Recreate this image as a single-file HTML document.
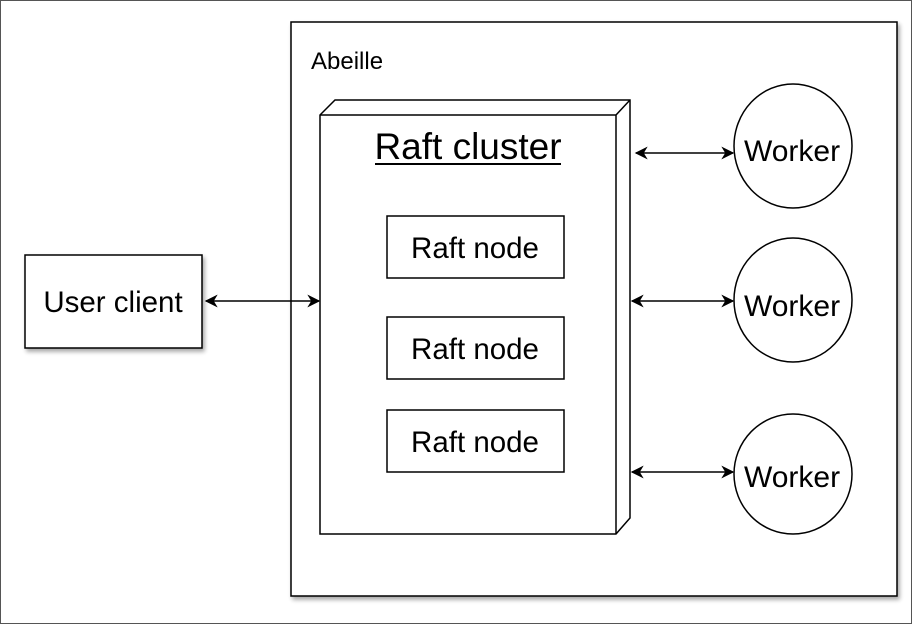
<!DOCTYPE html>
<html><head><meta charset="utf-8"><style>
html,body{margin:0;padding:0;background:#fff;}
svg{display:block;}
text{font-family:"Liberation Sans",sans-serif;fill:#000;}
</style></head><body>
<svg width="912" height="624" viewBox="0 0 912 624" xmlns="http://www.w3.org/2000/svg">
<defs>
<filter id="sh" x="-10%" y="-10%" width="130%" height="130%">
<feGaussianBlur in="SourceAlpha" stdDeviation="2"/>
<feOffset dx="2" dy="3" result="b"/>
<feComponentTransfer><feFuncA type="linear" slope="0.35"/></feComponentTransfer>
<feMerge><feMergeNode/><feMergeNode in="SourceGraphic"/></feMerge>
</filter>
<marker id="ah" viewBox="0 0 10 10" refX="9" refY="5" markerWidth="13" markerHeight="13" markerUnits="userSpaceOnUse" orient="auto-start-reverse">
<path d="M0,0 L10,5 L0,10 L3,5 Z" fill="#000"/>
</marker>
</defs>
<rect x="0.5" y="0.5" width="911" height="623" fill="#fff" stroke="#555" stroke-width="1"/>
<rect x="291" y="22" width="606" height="574" fill="#fff" stroke="#000" stroke-width="1.5" filter="url(#sh)"/>
<text x="311" y="69" font-size="24">Abeille</text>
<path d="M320,115 L335,100 L630,100 L630,518 L616,534 L320,534 Z" fill="#fff" stroke="#000" stroke-width="1.5"/>
<path d="M320,115 L616,115 L630,100 M616,115 L616,534" fill="none" stroke="#000" stroke-width="1.5"/>
<text x="468" y="159" font-size="37" text-anchor="middle">Raft cluster</text>
<line x1="375" y1="164" x2="561" y2="164" stroke="#000" stroke-width="2"/>
<rect x="387" y="216" width="177" height="62" fill="#fff" stroke="#000" stroke-width="1.5"/>
<text x="475" y="258" font-size="29.5" text-anchor="middle">Raft node</text>
<rect x="387" y="317" width="177" height="62" fill="#fff" stroke="#000" stroke-width="1.5"/>
<text x="475" y="359" font-size="29.5" text-anchor="middle">Raft node</text>
<rect x="387" y="410" width="177" height="62" fill="#fff" stroke="#000" stroke-width="1.5"/>
<text x="475" y="452" font-size="29.5" text-anchor="middle">Raft node</text>
<rect x="25" y="255" width="177" height="93" fill="#fff" stroke="#000" stroke-width="1.5" filter="url(#sh)"/>
<text x="113" y="312" font-size="29.5" text-anchor="middle">User client</text>
<line x1="206" y1="301" x2="319" y2="301" stroke="#000" stroke-width="1.5" marker-start="url(#ah)" marker-end="url(#ah)"/>
<ellipse cx="793" cy="146" rx="59" ry="62" fill="#fff" stroke="#000" stroke-width="1.5"/>
<text x="792" y="161" font-size="30" text-anchor="middle">Worker</text>
<ellipse cx="793" cy="300" rx="59" ry="62" fill="#fff" stroke="#000" stroke-width="1.5"/>
<text x="792" y="316" font-size="30" text-anchor="middle">Worker</text>
<ellipse cx="793" cy="474" rx="59" ry="60" fill="#fff" stroke="#000" stroke-width="1.5"/>
<text x="792" y="487" font-size="30" text-anchor="middle">Worker</text>
<line x1="636" y1="153" x2="733" y2="153" stroke="#000" stroke-width="1.5" marker-start="url(#ah)" marker-end="url(#ah)"/>
<line x1="632" y1="301" x2="733" y2="301" stroke="#000" stroke-width="1.5" marker-start="url(#ah)" marker-end="url(#ah)"/>
<line x1="632" y1="472" x2="733" y2="472" stroke="#000" stroke-width="1.5" marker-start="url(#ah)" marker-end="url(#ah)"/>
</svg>
</body></html>
